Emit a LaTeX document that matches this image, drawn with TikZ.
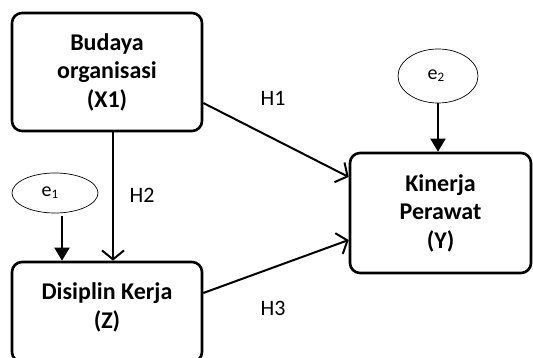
\documentclass[tikz,border=0pt]{standalone}
\usepackage{fontspec}
\setmainfont{Carlito}
\usetikzlibrary{arrows.meta,positioning,shapes}

\begin{document}
\begin{tikzpicture}[x=1pt,y=-1pt,
    varbox/.style={draw,line width=2.6pt,rounded corners=10pt,align=center,
      font=\fontsize{24}{28.5}\selectfont\bfseries},
    errnode/.style={draw,ellipse,line width=0.7pt,inner sep=0pt,
      font=\fontsize{20}{22}\selectfont},
    hlabel/.style={font=\fontsize{22}{26}\selectfont},
    openarr/.style={line width=2pt,-{Straight Barb[length=9pt,width=22pt,line width=2pt]}},
    fillarr/.style={line width=2pt,-{Triangle[length=13pt,width=15pt]}}]
    \useasboundingbox (0,0) rectangle (533,358);
    \node[varbox,minimum width=190pt,minimum height=118pt] (x1) at (107,72) {Budaya\\organisasi\\(X1)};
    \node[varbox,minimum width=190pt,minimum height=100pt] (z) at (107,312) {Disiplin Kerja\\(Z)\\[-16pt]};
    \node[varbox,minimum width=181pt,minimum height=120pt] (y) at (440.5,213) {Kinerja\\Perawat\\(Y)};
    \node[errnode,minimum width=86pt,minimum height=40pt] (e1) at (55,193) {e{\fontsize{13}{13}\selectfont\raisebox{-2pt}{1}}\hspace*{10pt}};
    \node[errnode,minimum width=80pt,minimum height=54pt] (e2) at (438,76) {e{\fontsize{13}{13}\selectfont\raisebox{-2pt}{2}}\hspace*{4pt}};

    \draw[fillarr] ([xshift=7pt,yshift=-3pt]e1.south) -- ([xshift=7pt]e1.south |- z.north);
    \draw[openarr] ([xshift=6pt]x1.south) -- ([xshift=6pt]x1.south |- z.north);
    \draw[fillarr] (e2.south) -- (e2.south |- y.north);
    \draw[openarr] ([yshift=-31pt]x1.east) -- ([yshift=36pt]y.west);
    \draw[openarr] ([yshift=19pt]z.east) -- ([yshift=-27pt]y.west);

    \node[hlabel] (h1) at (273,98) {H1};
    \node[hlabel] (h2) at (142,195) {H2};
    \node[hlabel] (h3) at (273,308) {H3};
\end{tikzpicture}
\end{document}
